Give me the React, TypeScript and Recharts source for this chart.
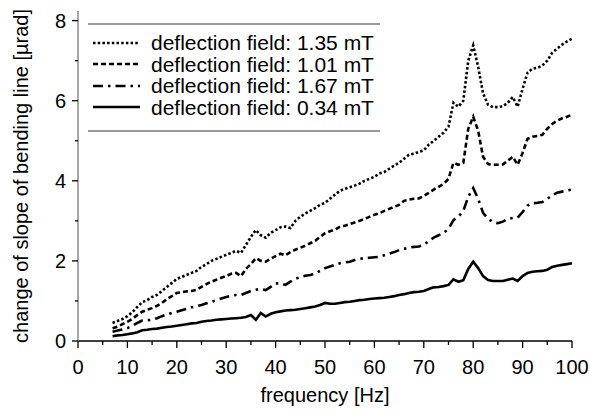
import React from 'react';
import { LineChart, Line, XAxis, YAxis, Label } from 'recharts';

// frequency grid [Hz]
const FREQ = [
  7, 8, 9, 10, 11, 12, 13, 14, 15, 16, 17, 18, 19, 20, 21, 22, 23, 24, 25, 26,
  27, 28, 29, 30, 31, 32, 33, 34, 35, 36, 37, 38, 39, 40, 41, 42, 43, 44, 45, 46,
  47, 48, 49, 50, 51, 52, 53, 54, 55, 56, 57, 58, 59, 60, 61, 62, 63, 64, 65, 66,
  67, 68, 69, 70, 71, 72, 73, 74, 75, 76, 77, 78, 79, 80, 81, 82, 83, 84, 85, 86,
  87, 88, 89, 90, 91, 92, 93, 94, 95, 96, 97, 98, 99, 100,
];

// change of slope [µrad] per deflection field
const FIELD_135 = [
  0.45, 0.5, 0.55, 0.62, 0.72, 0.85, 0.97, 1.02, 1.1, 1.15,
  1.25, 1.35, 1.45, 1.55, 1.6, 1.65, 1.7, 1.75, 1.85, 1.92,
  2.0, 2.05, 2.1, 2.15, 2.2, 2.25, 2.2, 2.4, 2.6, 2.77,
  2.64, 2.58, 2.7, 2.77, 2.84, 2.86, 2.82, 3.0, 3.1, 3.18,
  3.25, 3.32, 3.4, 3.45, 3.55, 3.65, 3.75, 3.8, 3.84, 3.88,
  3.93, 4.0, 4.05, 4.1, 4.18, 4.22, 4.3, 4.38, 4.45, 4.55,
  4.65, 4.68, 4.72, 4.76, 4.9, 5.0, 5.1, 5.2, 5.35, 5.95,
  5.85, 6.0, 7.0, 7.38, 6.85, 6.18, 5.9, 5.84, 5.84, 5.86,
  5.95, 6.09, 5.85, 6.3, 6.7, 6.8, 6.82, 6.88, 7.0, 7.2,
  7.3, 7.4, 7.48, 7.55,
];
const FIELD_101 = [
  0.32, 0.36, 0.42, 0.48, 0.55, 0.65, 0.73, 0.78, 0.82, 0.88,
  0.95, 1.05, 1.12, 1.2, 1.22, 1.24, 1.25, 1.28, 1.35, 1.42,
  1.48, 1.53, 1.58, 1.62, 1.68, 1.7, 1.62, 1.8, 1.92, 2.07,
  2.0, 1.98, 2.05, 2.12, 2.18, 2.14, 2.22, 2.28, 2.33, 2.38,
  2.44, 2.5, 2.6, 2.69, 2.74, 2.78, 2.85, 2.88, 2.92, 2.96,
  3.0, 3.05, 3.1, 3.15, 3.19, 3.25, 3.3, 3.35, 3.4, 3.5,
  3.53, 3.55, 3.56, 3.62, 3.7, 3.78, 3.85, 3.92, 4.05, 4.45,
  4.4, 4.45, 5.3, 5.6, 5.25, 4.6, 4.42, 4.4, 4.4, 4.41,
  4.5, 4.6, 4.4, 4.7, 5.05, 5.1, 5.12, 5.15, 5.3, 5.42,
  5.5, 5.56, 5.6, 5.65,
];
const FIELD_167 = [
  0.23, 0.26, 0.29, 0.32, 0.38, 0.45, 0.51, 0.52, 0.53, 0.57,
  0.62, 0.66, 0.7, 0.73, 0.77, 0.8, 0.84, 0.87, 0.9, 0.94,
  0.98, 1.02, 1.06, 1.1, 1.13, 1.15, 1.15, 1.2, 1.25, 1.28,
  1.3, 1.27, 1.35, 1.44, 1.44, 1.4, 1.48, 1.55, 1.6, 1.63,
  1.65, 1.68, 1.75, 1.82, 1.86, 1.9, 1.94, 1.96, 1.98, 2.02,
  2.05, 2.07, 2.08, 2.09, 2.1, 2.14, 2.18, 2.22, 2.27, 2.3,
  2.33, 2.35, 2.36, 2.4, 2.5, 2.58, 2.64, 2.7, 2.8, 3.02,
  3.1, 3.25, 3.6, 3.82, 3.55, 3.2, 3.05, 2.97, 2.94, 2.98,
  3.05, 3.07, 3.08, 3.22, 3.38, 3.44, 3.45, 3.47, 3.55, 3.64,
  3.7, 3.73, 3.76, 3.78,
];
const FIELD_034 = [
  0.12, 0.14, 0.15, 0.17, 0.19, 0.22, 0.27, 0.28, 0.3, 0.31,
  0.33, 0.35, 0.36, 0.38, 0.4, 0.42, 0.44, 0.45, 0.48, 0.5,
  0.51, 0.53, 0.54, 0.55, 0.56, 0.57, 0.58, 0.6, 0.65, 0.53,
  0.7, 0.61, 0.68, 0.72, 0.74, 0.76, 0.77, 0.78, 0.8, 0.82,
  0.84, 0.86, 0.9, 0.95, 0.93, 0.93, 0.95, 0.97, 0.98, 1.0,
  1.02, 1.03, 1.05, 1.06, 1.07, 1.08, 1.1, 1.12, 1.15, 1.17,
  1.2, 1.22, 1.23, 1.25, 1.3, 1.34, 1.35, 1.37, 1.4, 1.54,
  1.48, 1.52, 1.8, 1.98, 1.82, 1.62, 1.52, 1.5, 1.5, 1.5,
  1.53, 1.56, 1.5, 1.62, 1.7, 1.73, 1.74, 1.75, 1.78, 1.85,
  1.88, 1.9, 1.92, 1.94,
];

const X_TICKS = [0, 5, 10, 15, 20, 25, 30, 35, 40, 45, 50, 55, 60, 65, 70, 75, 80, 85, 90, 95, 100];
const Y_TICKS = [0, 1, 2, 3, 4, 5, 6, 7, 8];

const SERIES = [
  { key: 'f135', name: 'deflection field: 1.35 mT', dash: '2.5 2.2' },
  { key: 'f101', name: 'deflection field: 1.01 mT', dash: '5 3' },
  { key: 'f167', name: 'deflection field: 1.67 mT', dash: '10 5 2.5 5' },
  { key: 'f034', name: 'deflection field: 0.34 mT', dash: undefined },
];

const data = FREQ.map((f, i) => ({
  freq: f,
  f135: FIELD_135[i],
  f101: FIELD_101[i],
  f167: FIELD_167[i],
  f034: FIELD_034[i],
}));

const FONT = '"Liberation Sans", Arial, Helvetica, sans-serif';

const XTick = (props: any) => {
  const { x, y, payload } = props;
  const major = payload.value % 10 === 0;
  const axisY = y - 19;
  return (
    <g>
      <line x1={x} x2={x} y1={axisY} y2={axisY + (major ? 7 : 4)} stroke="#000" strokeWidth={1.3} />
      {major && (
        <text x={x} y={y} dy="0.71em" textAnchor="middle" fontSize={20} fontFamily={FONT} fill="#000">
          {payload.value}
        </text>
      )}
    </g>
  );
};

const YTick = (props: any) => {
  const { x, y, payload } = props;
  const major = payload.value % 2 === 0;
  const axisX = x + 12;
  return (
    <g>
      <line x1={axisX - (major ? 6 : 3)} x2={axisX} y1={y} y2={y} stroke="#000" strokeWidth={1.3} />
      {major && (
        <text x={x} y={y} dy="0.355em" textAnchor="end" fontSize={20} fontFamily={FONT} fill="#000">
          {payload.value}
        </text>
      )}
    </g>
  );
};

// legend drawn as an overlay so it does not shrink the plot area
const LegendBox = () => (
  <div style={{ position: 'absolute', left: 88, top: 23, width: 292, fontFamily: FONT, fontSize: 21, color: '#000' }}>
    <div style={{ borderTop: '2px solid #999', height: 7 }} />
    {SERIES.map((s) => (
      <div key={s.key} style={{ display: 'flex', alignItems: 'center', height: 21.5 }}>
        <svg width={50} height={10} style={{ marginLeft: 5, flex: 'none' }}>
          <line x1={0} x2={47} y1={5} y2={5} stroke="#000" strokeWidth={2.5} strokeDasharray={s.dash} />
        </svg>
        <span style={{ marginLeft: 8, whiteSpace: 'nowrap', lineHeight: '21px' }}>{s.name}</span>
      </div>
    ))}
    <div style={{ borderBottom: '2px solid #999', height: 12 }} />
  </div>
);

export default function App() {
  return (
    <div style={{ position: 'absolute', left: 0, top: 0, width: 590, height: 416, background: '#fff' }}>
      <LineChart width={590} height={416} data={data} margin={{ top: 11, right: 18, bottom: 0, left: 0 }}>
        <XAxis
          dataKey="freq"
          type="number"
          domain={[0, 100]}
          ticks={X_TICKS}
          interval={0}
          tickSize={7}
          tickMargin={12}
          tickLine={false}
          tick={<XTick />}
          height={75}
          axisLine={{ stroke: '#000', strokeWidth: 1.5 }}
        >
          <Label value="frequency [Hz]" position="insideBottom" offset={14} fontSize={20} fontFamily={FONT} fill="#000" />
        </XAxis>
        <XAxis xAxisId="top" orientation="top" dataKey="freq" type="number" domain={[0, 100]} height={0} tick={false} tickLine={false} axisLine={{ stroke: '#222', strokeWidth: 1.5 }} />
        <YAxis
          type="number"
          domain={[0, 8.24]}
          ticks={Y_TICKS}
          interval={0}
          width={78}
          tickSize={6}
          tickMargin={6}
          tickLine={false}
          tick={<YTick />}
          axisLine={{ stroke: '#888', strokeWidth: 1.5 }}
        >
          <Label
            value="change of slope of bending line [µrad]"
            angle={-90}
            position="insideLeft"
            offset={21}
            fontSize={20}
            fontFamily={FONT}
            fill="#000"
            style={{ textAnchor: 'middle' }}
          />
        </YAxis>
        <YAxis yAxisId="right" orientation="right" domain={[0, 8.24]} width={0} tick={false} tickLine={false} axisLine={{ stroke: '#777', strokeWidth: 2 }} />
        {SERIES.map((s) => (
          <Line
            key={s.key}
            dataKey={s.key}
            name={s.name}
            type="linear"
            stroke="#000"
            strokeWidth={2.6}
            strokeDasharray={s.dash}
            dot={false}
            activeDot={false}
            isAnimationActive={false}
          />
        ))}
      </LineChart>
      <LegendBox />
    </div>
  );
}
